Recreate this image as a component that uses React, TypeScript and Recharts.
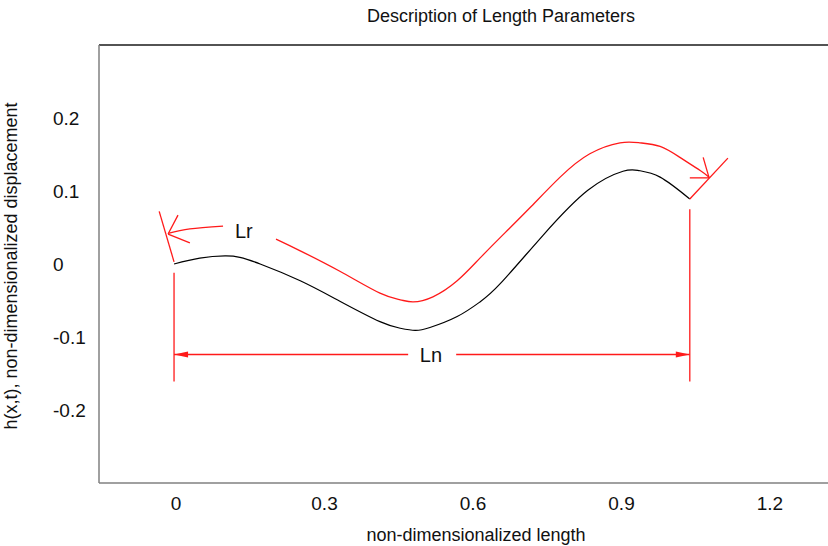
import React from "react";
import {
  ComposedChart,
  Line,
  XAxis,
  YAxis,
  ReferenceLine,
  ReferenceDot,
} from "recharts";

// profile h(x) (black) and the arc-length path drawn above it (red)
const profileX = [-0.004, 0.048, 0.099, 0.129, 0.17, 0.251, 0.331, 0.412, 0.453, 0.483, 0.513, 0.568, 0.614, 0.655, 0.741, 0.832, 0.903, 0.935, 0.978, 1.038];
const profileY = [0, 0.008, 0.011, 0.009, 0.0, -0.023, -0.051, -0.079, -0.088, -0.091, -0.087, -0.072, -0.052, -0.027, 0.039, 0.101, 0.127, 0.128, 0.119, 0.089];

const arcX = [-0.016, 0.028, 0.095, 0.15, 0.202, 0.251, 0.331, 0.412, 0.453, 0.479, 0.519, 0.568, 0.614, 0.665, 0.715, 0.776, 0.836, 0.897, 0.937, 0.978, 1.018, 1.059, 1.077];
const arcY = [0.042, 0.048, 0.052, null, 0.034, 0.018, -0.01, -0.04, -0.049, -0.052, -0.045, -0.023, 0.008, 0.043, 0.077, 0.119, 0.151, 0.166, 0.166, 0.161, 0.146, 0.128, 0.119];

const xTicks = [0, 0.3, 0.6, 0.9, 1.2];
const yTicks = [-0.2, -0.1, 0, 0.1, 0.2];

// straight red annotation strokes: end markers, arrow barbs, Ln extent lines
const strokes: [number, number, number, number][] = [
  [-0.034, 0.072, -0.004, 0.003],
  [-0.016, 0.041, 0.004, 0.067],
  [-0.016, 0.041, 0.028, 0.029],
  [1.038, 0.089, 1.115, 0.145],
  [1.077, 0.118, 1.065, 0.146],
  [1.077, 0.118, 1.038, 0.118],
  [-0.004, -0.012, -0.004, -0.161],
  [1.038, 0.075, 1.038, -0.161],
];

// Ln dimension arrow, split around its label
const lnY = -0.124;
const lnLeft = [-0.004, 0.469];
const lnRight = [0.566, 1.038];

const labelLr = { x: 0.137, y: 0.046, text: "Lr" };
const labelLn = { x: 0.515, y: -0.124, text: "Ln" };

const FONT = '"Liberation Sans", Arial, sans-serif';
const RED = "#ff1a1a";

const profile = profileX.map((x, i) => ({ x, y: profileY[i] }));
const arc = arcX.map((x, i) => ({ x, y: arcY[i] }));

function Arrow(props: any) {
  const { x1, y1, x2, y2, head } = props;
  const hx = head === "start" ? x1 : x2;
  const hy = head === "start" ? y1 : y2;
  const dir = head === "start" ? 1 : -1;
  const len = 14;
  return (
    <g>
      <line x1={x1} y1={y1} x2={x2} y2={y2} stroke={RED} strokeWidth={1.3} />
      <polygon
        points={`${hx},${hy} ${hx + dir * len},${hy - 3} ${hx + dir * len},${hy + 3}`}
        fill={RED}
      />
    </g>
  );
}

function YTick({ y, payload }: any) {
  return (
    <text x={53} y={y} textAnchor="start" dominantBaseline="central" fontSize={19} fontFamily={FONT} fill="#111">
      {payload.value}
    </text>
  );
}

function XTick({ x, payload }: any) {
  return (
    <text x={x} y={503} textAnchor="middle" dominantBaseline="central" fontSize={19} fontFamily={FONT} fill="#111">
      {payload.value}
    </text>
  );
}

export default function App() {
  return (
    <div style={{ position: "absolute", left: 0, top: 0, width: 828, height: 546, background: "#fff", fontFamily: FONT }}>
      <div style={{ position: "absolute", left: 174, width: 654, top: 6, textAlign: "center", fontSize: 18, color: "#111" }}>
        Description of Length Parameters
      </div>
      <ComposedChart width={828} height={546} margin={{ top: 45, right: 0, bottom: 0, left: 0 }}>
        <XAxis
          type="number"
          dataKey="x"
          domain={[-0.1556, 1.3172]}
          ticks={xTicks}
          allowDataOverflow
          height={63}
          tickLine={false}
          axisLine={{ stroke: "#808080", strokeWidth: 1.5 }}
          tick={<XTick />}
          label={{
            content: () => (
              <text x={476} y={535} textAnchor="middle" dominantBaseline="central" fontSize={18} fontFamily={FONT} fill="#111">
                non-dimensionalized length
              </text>
            ),
          }}
        />
        <YAxis
          type="number"
          dataKey="y"
          domain={[-0.3, 0.3]}
          ticks={yTicks}
          allowDataOverflow
          width={99}
          tickLine={false}
          axisLine={{ stroke: "#808080", strokeWidth: 1.5 }}
          tick={<YTick />}
          label={{
            content: () => (
              <text
                x={11}
                y={266}
                transform="rotate(-90 11 266)"
                textAnchor="middle"
                dominantBaseline="central"
                fontSize={18}
                fontFamily={FONT}
                fill="#111"
              >
                h(x,t), non-dimensionalized displacement
              </text>
            ),
          }}
        />
        <ReferenceLine y={0.3} stroke="#1a1a1a" strokeWidth={1.3} />
        <Line
          data={profile}
          dataKey="y"
          type="natural"
          stroke="#000"
          strokeWidth={1.2}
          dot={false}
          isAnimationActive={false}
        />
        <Line
          data={arc}
          dataKey="y"
          type="natural"
          stroke={RED}
          strokeWidth={1.3}
          dot={false}
          connectNulls={false}
          isAnimationActive={false}
        />
        {strokes.map(([ax, ay, bx, by], i) => (
          <ReferenceLine
            key={i}
            segment={[
              { x: ax, y: ay },
              { x: bx, y: by },
            ]}
            stroke={RED}
            strokeWidth={1.3}
          />
        ))}
        <ReferenceLine
          segment={[
            { x: lnLeft[0], y: lnY },
            { x: lnLeft[1], y: lnY },
          ]}
          shape={(p: any) => <Arrow {...p} head="start" />}
        />
        <ReferenceLine
          segment={[
            { x: lnRight[0], y: lnY },
            { x: lnRight[1], y: lnY },
          ]}
          shape={(p: any) => <Arrow {...p} head="end" />}
        />
        {[labelLr, labelLn].map((l) => (
          <ReferenceDot
            key={l.text}
            x={l.x}
            y={l.y}
            r={0}
            fill="none"
            stroke="none"
            label={{ value: l.text, position: "center", fontSize: 20, fontFamily: FONT, fill: "#111" }}
          />
        ))}
      </ComposedChart>
    </div>
  );
}
